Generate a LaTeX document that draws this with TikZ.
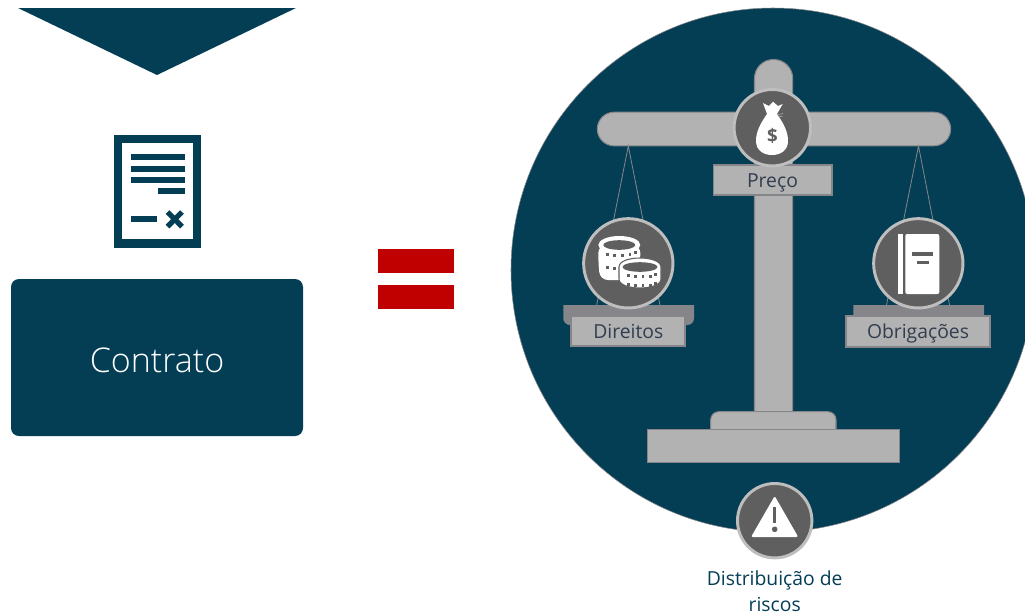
\documentclass[tikz,border=0pt]{standalone}
\usepackage{fontspec}
\setmainfont{Open Sans}
\newfontfamily\lightfont{Open Sans Light}
\definecolor{navy}{HTML}{033E55}
\definecolor{scalegray}{HTML}{B2B2B2}
\definecolor{edgegray}{HTML}{85858A}
\definecolor{iconback}{HTML}{5F5F5F}
\definecolor{labeltext}{HTML}{323E4F}
\definecolor{equalred}{HTML}{C00000}
\tikzset{
  scalepart/.style={draw=edgegray, fill=scalegray, line width=0.8pt},
  labelbox/.style={draw=edgegray, fill=scalegray, line width=1.4pt, text=labeltext, inner sep=0pt, text height=11.5pt, text depth=0.5pt, font=\fontsize{14.5}{14.5}\selectfont},
  iconcircle/.style={circle, draw=scalegray!85!white, fill=iconback, line width=2.2pt, inner sep=0pt},
  stringline/.style={draw=edgegray, line width=0.6pt},
  coindot/.style={fill=iconback},
}
\begin{document}
\begin{tikzpicture}[x=0.75pt,y=-0.75pt]
\clip (0,0) rectangle (1025,615);
% left side
\fill[navy] (18,8) -- (296,8) -- (157,75) -- cycle;
\fill[navy] (114,134.5) rectangle (201,247.5);
\fill[white] (122.3,143.3) rectangle (193.3,239);
\foreach \ya/\xa in {154/131, 166/131, 177.3/131, 188/158}
  \fill[navy] (\xa,\ya) rectangle (185,\ya+5.7);
\fill[navy] (131,216) rectangle (157,221.7);
\draw[navy, line width=3.9pt] (167.5,212) -- (182,226.6) (182,212) -- (167.5,226.6);
\node[fill=navy, rounded corners=6pt, minimum width=219pt, minimum height=117.75pt, inner sep=0pt, text=white, text height=22pt, font=\lightfont\fontsize{25.5}{25.5}\selectfont] (contrato) at (157,357.5) {Contrato};
% equals sign
\fill[equalred] (378,249) rectangle (454,273);
\fill[equalred] (378,285) rectangle (454,309);
% scale
\fill[navy, draw=edgegray, line width=0.4pt] (773,270) circle (262);
\draw[scalepart, rounded corners=14.25pt] (754.5,412) -- (754.5,59.5) -- (792.7,59.5) [sharp corners] -- (792.7,412);
\node[scalepart, rounded corners=12.6pt, minimum width=265pt, minimum height=25.2pt, inner sep=0pt] (beam) at (774,129) {};
\coordinate (hookL) at (628.3,146);
\coordinate (hookR) at (918.5,146);
\coordinate (trayLa) at (596.7,305);
\coordinate (trayLb) at (659.9,305);
\coordinate (trayRa) at (886.5,305);
\coordinate (trayRb) at (949.5,305);
\draw[stringline] (trayLa) -- (hookL) -- (trayLb);
\draw[stringline] (trayRa) -- (hookR) -- (trayRb);
% trays and foot
\fill[edgegray, rounded corners=5pt] (563.3,305) [sharp corners] -- (694,305) [rounded corners=5pt] -- (694,325) -- (563.3,325) [sharp corners] -- cycle;
\fill[edgegray, rounded corners=5pt] (853.3,305) [sharp corners] -- (984,305) [rounded corners=5pt] -- (984,325) -- (853.3,325) [sharp corners] -- cycle;
\draw[scalepart, rounded corners=6pt] (710.7,429.5) -- (710.7,411.7) -- (836,411.7) [sharp corners] -- (836,429.5);
\node[scalepart, minimum width=188.6pt, minimum height=24.7pt, inner sep=0pt] (foot) at (773.5,445.8) {};
% labels
\node[labelbox, minimum width=88.6pt, minimum height=22.6pt] (preco) at (772.5,179.7) {Preço};
\node[labelbox, minimum width=85.5pt, minimum height=22.8pt] (direitos) at (628.3,331.2) {Direitos};
\node[labelbox, minimum width=108.5pt, minimum height=22.8pt] (obrigacoes) at (918,331.5) {Obrigações};
\node[iconcircle, minimum size=57.3pt] (precoicon) at (772.3,127.7) {};
\node[iconcircle, minimum size=67pt] (direitosicon) at (628.3,263.3) {};
\node[iconcircle, minimum size=67pt] (obrigacoesicon) at (918.3,263.3) {};
\node[iconcircle, minimum size=55.8pt] (riscosicon) at (774.7,520.7) {};
% money bag
\fill[white] (767,114) .. controls (760,124) and (756,132) .. (756,141) .. controls (756,150) and (763,155) .. (772,155) .. controls (781,155) and (788,150) .. (788,141) .. controls (788,132) and (784,124) .. (777,114) -- (782.7,104) -- (778,106) -- (773,101.7) -- (769,106) -- (763,103) -- cycle;
\draw[scalegray, line width=0.4pt] (777,115) -- (783,113.5) (778,117) -- (783,116);
\node[text=iconback, draw=none, inner sep=0pt, font=\fontsize{14}{14}\selectfont\bfseries] (dollar) at (772.5,136) {\$};
% coins
\fill[white, rounded corners=6pt] (598.3,245) -- (598.3,262) -- (600,280) -- (636,280) -- (640.3,262) -- (640.3,245) -- cycle;
\fill[white] (619.3,245) ellipse [x radius=21, y radius=9];
\fill[iconback] (619.3,245) ellipse [x radius=16, y radius=4.8];
\foreach \cy in {250,263}
  \foreach \a in {30,55,...,150}
    \fill[coindot] ({619.3+18.5*cos(\a)-1.3},{\cy+5.5*sin(\a)-1.5}) rectangle +(2.6,3);
\draw[iconback, fill=white, line width=0.8pt] (619,267) -- (619,279) .. controls (619,291) and (661,291) .. (661,279) -- (661,267) .. controls (661,255) and (619,255) .. (619,267) -- cycle;
\fill[iconback] (640,267) ellipse [x radius=17.5, y radius=4.8];
\foreach \cy in {272,281}
  \foreach \a in {30,55,...,150}
    \fill[coindot] ({640+18*cos(\a)-1.3},{\cy+5*sin(\a)-1.5}) rectangle +(2.6,3);
% book
\fill[white] (898,234) rectangle (903,294);
\fill[white, rounded corners=1.5pt] (905.3,234) rectangle (939.3,294);
\fill[iconback] (912,252) rectangle (933,256.3);
\fill[iconback] (917,260.7) rectangle (928.7,263.5);
% warning sign
\fill[white, draw=white, line width=1.5pt, line join=round] (774.7,498) -- (796.5,536) -- (752.8,536) -- cycle;
\draw[iconback, line width=2pt] (774.7,507) -- (774.7,523);
\fill[iconback] (774.7,529.3) circle (2.8);
% bottom caption
\node[text=navy, align=center, inner sep=0pt, font=\fontsize{14.5}{19.5}\selectfont] (riscos) at (774.7,591) {Distribuição de\\riscos};
\end{tikzpicture}
\end{document}
